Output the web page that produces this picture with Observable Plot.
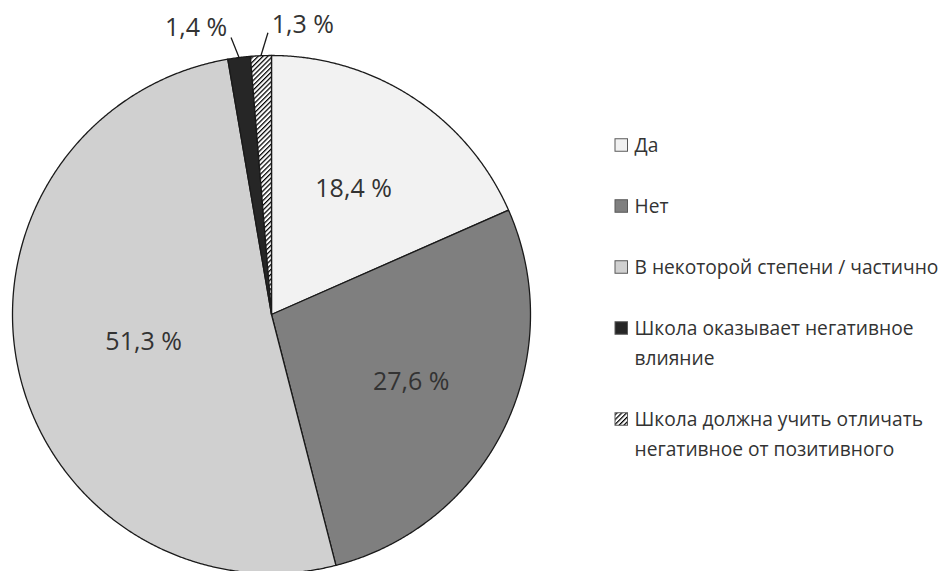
<!DOCTYPE html>
<html><head><meta charset="utf-8">
<script src="https://cdn.jsdelivr.net/npm/d3@7"></script>
<script src="https://cdn.jsdelivr.net/npm/@observablehq/plot@0.6"></script>
<style>
html,body{margin:0;padding:0;background:#fff;}
#chart svg{display:block;}
</style>
</head><body><div id="chart"></div>
<script>
// ---- data ----
const categories = ["Да", "Нет", "В некоторой степени / частично", "Школа оказывает негативное\nвлияние", "Школа должна учить отличать\nнегативное от позитивного"];
const values = [18.4, 27.6, 51.3, 1.4, 1.3];
const valueLabels = ["18,4 %", "27,6 %", "51,3 %", "1,4 %", "1,3 %"];
const fills = ["#f2f2f2", "#7f7f7f", "#d0d0d0", "#262626", "url(#hatch)"];

// ---- layout (styling, not data) ----
const W = 950, H = 571, cx = 271, cy = 314, R = 259;
const labelRadius = [0.58, 0.60, 0.505, null, null];
const outside = {3: {lead: [-8, -20], text: [-43, -30]}, 4: {lead: [7, -23], text: [42, -31]}};
const legend = {sx: 615, size: 12.5, tx: 634, y0: 145, step: 61, line: 30};
const textColor = "#333";
const font = "'Open Sans', sans-serif";

const pie = d3.pie().sort(null).value(d => d)(values);

const slices = pie.map((p, i) => {
  const pts = [{x: cx, y: cy}];
  const n = Math.max(4, Math.ceil((p.endAngle - p.startAngle) / 0.005));
  for (let k = 0; k <= n; k++) {
    const a = p.startAngle + (p.endAngle - p.startAngle) * k / n;
    pts.push({x: cx + R * Math.sin(a), y: cy - R * Math.cos(a)});
  }
  return pts;
});

const inLabels = [], outLabels = [], leaders = [];
pie.forEach((p, i) => {
  const a = (p.startAngle + p.endAngle) / 2;
  if (labelRadius[i] != null) {
    const r = R * labelRadius[i];
    inLabels.push({x: cx + r * Math.sin(a), y: cy - r * Math.cos(a), t: valueLabels[i]});
  } else {
    const ex = cx + R * Math.sin(a), ey = cy - R * Math.cos(a);
    const o = outside[i];
    leaders.push({x1: ex, y1: ey, x2: ex + o.lead[0], y2: ey + o.lead[1]});
    outLabels.push({x: ex + o.text[0], y: ey + o.text[1], t: valueLabels[i]});
  }
});

const legendBoxes = [], legendLines = [];
let yy = legend.y0;
categories.forEach((c, i) => {
  const lines = c.split("\n");
  legendBoxes.push({x1: legend.sx, x2: legend.sx + legend.size, y1: yy - legend.size / 2, y2: yy + legend.size / 2, f: fills[i]});
  lines.forEach((l, j) => legendLines.push({x: legend.tx, y: yy + j * legend.line, t: l}));
  yy += legend.step + (lines.length - 1) * legend.line;
});

const marks = [];
slices.forEach((pts, i) => {
  marks.push(Plot.line(pts, {x: "x", y: "y", curve: "linear-closed", fill: fills[i], stroke: "#1a1a1a", strokeWidth: 1.3, strokeLinejoin: "round"}));
});
marks.push(Plot.link(leaders, {x1: "x1", y1: "y1", x2: "x2", y2: "y2", stroke: "#1a1a1a", strokeWidth: 1.3}));
marks.push(Plot.text(inLabels, {x: "x", y: "y", text: "t", fontSize: 25, fill: textColor, fontFamily: font}));
marks.push(Plot.text(outLabels, {x: "x", y: "y", text: "t", fontSize: 25, fill: textColor, fontFamily: font}));
legendBoxes.forEach(b => {
  marks.push(Plot.rect([b], {x1: "x1", x2: "x2", y1: "y1", y2: "y2", fill: b.f, stroke: "#595959", strokeWidth: 1}));
});
marks.push(Plot.text(legendLines, {x: "x", y: "y", text: "t", textAnchor: "start", fontSize: 19.2, fill: textColor, fontFamily: font}));

const chart = Plot.plot({
  width: W, height: H,
  margin: 0,
  x: {type: "identity", axis: null},
  y: {type: "identity", axis: null},
  style: {background: "#fff", overflow: "hidden"},
  marks
});

// hatch pattern definition
const svg = d3.select(chart);
const defs = svg.insert("defs", ":first-child");
const pat = defs.append("pattern").attr("id", "hatch").attr("patternUnits", "userSpaceOnUse")
  .attr("width", 3.4).attr("height", 3.4).attr("patternTransform", "rotate(45)");
pat.append("rect").attr("width", 3.4).attr("height", 3.4).attr("fill", "#fff");
pat.append("line").attr("x1", 0.6).attr("y1", 0).attr("x2", 0.6).attr("y2", 3.4).attr("stroke", "#000").attr("stroke-width", 1.3);

document.getElementById("chart").appendChild(chart);
</script>
</body></html>
